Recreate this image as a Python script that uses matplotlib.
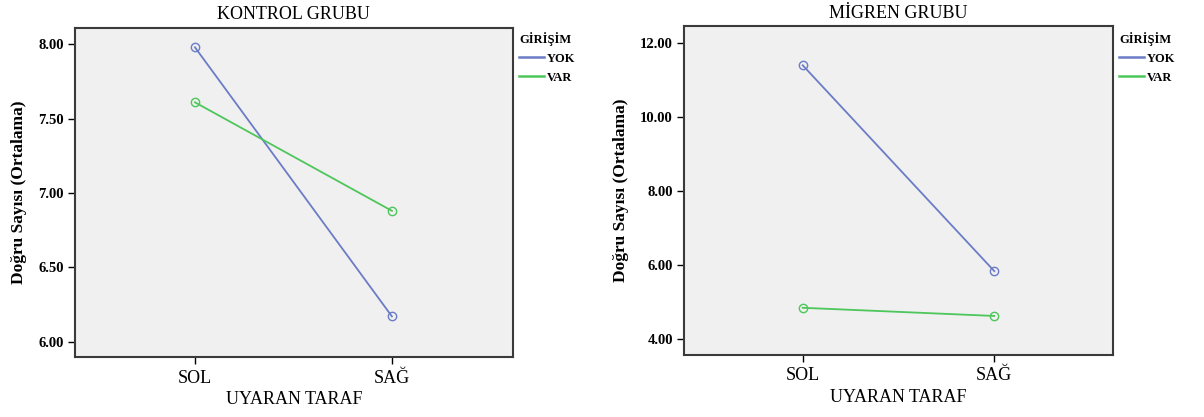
import matplotlib.pyplot as plt
from matplotlib.lines import Line2D
from matplotlib.ticker import FormatStrFormatter

# Data
sides = ["SOL", "SAĞ"]
groups = ["YOK", "VAR"]
kontrol_yok = [7.98, 6.17]
kontrol_var = [7.61, 6.88]
migren_yok = [11.39, 5.84]
migren_var = [4.85, 4.63]

colors = {"YOK": "#6b7cc6", "VAR": "#4dc65b"}
serif = ["Liberation Serif", "DejaVu Serif"]


def draw_panel(ax, title, yok, var, yticks, ylim, xlim, leg_x):
    x = list(range(len(sides)))
    for name, vals in zip(groups, [yok, var]):
        ax.plot(x, vals, color=colors[name], lw=1.3, marker="o", ms=6,
                mfc="none", mec=colors[name], mew=1.0)
    ax.set_facecolor("#f0f0f0")
    ax.set_xlim(*xlim)
    ax.set_ylim(*ylim)
    ax.set_xticks(x)
    ax.set_xticklabels(sides, family=serif, fontsize=13)
    ax.set_yticks(yticks)
    ax.yaxis.set_major_formatter(FormatStrFormatter("%.2f"))
    for lab in ax.get_yticklabels():
        lab.set_family(serif)
        lab.set_fontweight("bold")
        lab.set_fontsize(10.5)
    ax.tick_params(direction="out", length=5, width=1, color="black", pad=3)
    ax.tick_params(axis="x", pad=4)
    for sp in ax.spines.values():
        sp.set_linewidth(1.5)
        sp.set_color("#3a3a3a")
    ax.set_title(title, family=serif, fontsize=13, pad=6)
    ax.set_xlabel("UYARAN TARAF", family=serif, fontsize=13, labelpad=3)
    ax.set_ylabel("Doğru Sayısı (Ortalama)", family=serif, fontsize=12.5,
                  fontweight="bold", labelpad=8)

    # legend with plain line handles, outside the plot to the right
    handles = [Line2D([], [], color=colors[g], lw=1.8) for g in groups]
    leg = ax.legend(handles, groups, loc="upper left",
                    bbox_to_anchor=(leg_x, 1 - 32 / 417),
                    bbox_transform=ax.figure.transFigure, frameon=False,
                    title="GİRİŞİM", alignment="left",
                    handlelength=2.0, handletextpad=0.25,
                    labelspacing=0.55, borderaxespad=0, borderpad=0,
                    prop={"family": serif, "weight": "bold", "size": 9})
    leg.get_title().set_family(serif)
    leg.get_title().set_fontweight("bold")
    leg.get_title().set_fontsize(9)


fig = plt.figure(figsize=(12.04, 4.17), dpi=100)
ax1 = fig.add_axes([0.0623, 0.1432, 0.3635, 0.7904])
ax2 = fig.add_axes([0.5681, 0.1487, 0.3563, 0.789])

draw_panel(ax1, "KONTROL GRUBU", kontrol_yok, kontrol_var,
           [6.0, 6.5, 7.0, 7.5, 8.0], (5.895, 8.112), (-0.609, 1.613),
           519 / 1204)
draw_panel(ax2, "MİGREN GRUBU", migren_yok, migren_var,
           [4.0, 6.0, 8.0, 10.0, 12.0], (3.577, 12.45), (-0.62, 1.62),
           1119 / 1204)

fig.savefig("out.png", dpi=100)
